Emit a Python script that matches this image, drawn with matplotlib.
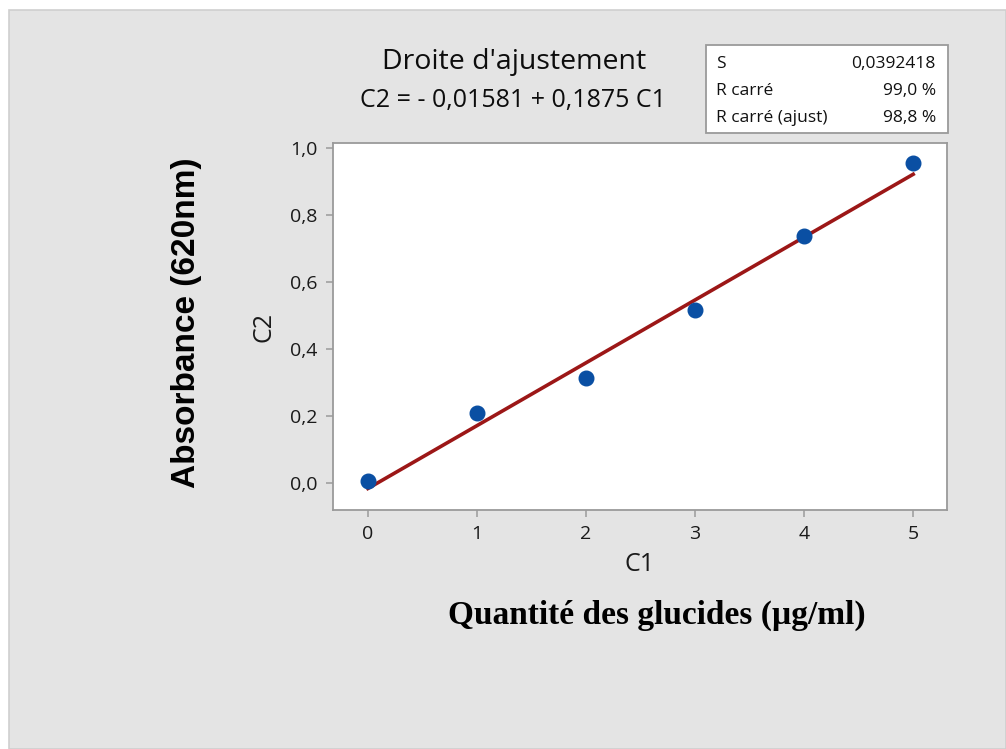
import matplotlib.pyplot as plt
from matplotlib.patches import Rectangle
from matplotlib.ticker import FuncFormatter

# concentration (C1) and absorbance (C2)
c1 = [0, 1, 2, 3, 4, 5]
c2 = [0.008, 0.210, 0.315, 0.518, 0.737, 0.955]

intercept = -0.01581
slope = 0.1875
stats_names = ['S', 'R carré', 'R carré (ajust)']
stats_values = ['0,0392418', '99,0 %', '98,8 %']

xticks = [0, 1, 2, 3, 4, 5]
yticks = [0.0, 0.2, 0.4, 0.6, 0.8, 1.0]

W, H = 1006, 749
fig = plt.figure(figsize=(W / 100, H / 100), dpi=100)
fig.patch.set_facecolor('white')

# grey panel behind everything
fig.patches.append(Rectangle((9 / W, 0), 1 - 9 / W, 1 - 10 / H, transform=fig.transFigure,
                             facecolor='#e4e4e4', edgecolor='#cfcfcf', lw=1.2, zorder=-5))

sans = 'Open Sans'
ax = fig.add_axes([333 / W, 1 - 510 / H, (947 - 333) / W, (510 - 143) / H])
ax.set_facecolor('white')
for s in ax.spines.values():
    s.set_color('#9a9a9a')
    s.set_linewidth(1.3)

ax.plot(c1, c2, 'o', color='#0a4fa3', markersize=10.5, zorder=3)
fit_x = [c1[0], c1[-1]]
fit_y = [intercept + slope * x for x in fit_x]
ax.plot(fit_x, fit_y, color='#9c1717', lw=2.6, zorder=2)

ax.set_xlim(-0.32, 5.31)
ax.set_ylim(-0.08, 1.015)
ax.set_xticks(xticks)
ax.set_yticks(yticks)
ax.yaxis.set_major_formatter(FuncFormatter(lambda v, p: f'{v:.1f}'.replace('.', ',')))
ax.tick_params(length=5, width=1.1, color='#9a9a9a', labelsize=14, pad=6, labelcolor='#1a1a1a')
for lab in ax.get_xticklabels() + ax.get_yticklabels():
    lab.set_family(sans)
    lab.set_weight('medium')

ax.set_xlabel('C1', family=sans, fontsize=18, color='#1a1a1a', labelpad=6)
ax.set_ylabel('C2', family=sans, fontsize=18, color='#1a1a1a', labelpad=10)

fig.text(514 / W, 1 - 62 / H, "Droite d'ajustement", family=sans, fontsize=20.5,
         weight='medium', ha='center', va='center', color='#0d0d0d')
fig.text(513 / W, 1 - 100 / H, 'C2 = - 0,01581 + 0,1875 C1', family=sans, fontsize=18,
         weight='medium', ha='center', va='center', color='#0d0d0d')

# statistics box
fig.patches.append(Rectangle((706 / W, 1 - 133 / H), (948 - 706) / W, (133 - 45) / H,
                             transform=fig.transFigure, facecolor='white',
                             edgecolor='#9a9a9a', lw=1.3, zorder=1))
for i, (n, v) in enumerate(zip(stats_names, stats_values)):
    y = 1 - (64 + 27 * i) / H
    fig.text(716 / W, y, n, family=sans, fontsize=12.5, ha='left', va='center', color='#111111')
    fig.text(936 / W, y, v, family=sans, fontsize=12.5, ha='right', va='center', color='#111111')

fig.text(186 / W, 1 - 323 / H, 'Absorbance (620nm)', family='Liberation Sans', weight='bold',
         fontsize=24, rotation=90, ha='center', va='center', color='black')
fig.text(657 / W, 1 - 615 / H, 'Quantité des glucides (µg/ml)', family='Liberation Serif',
         weight='bold', fontsize=24, ha='center', va='center', color='black')

fig.savefig('out.png', dpi=100, facecolor=fig.get_facecolor())
